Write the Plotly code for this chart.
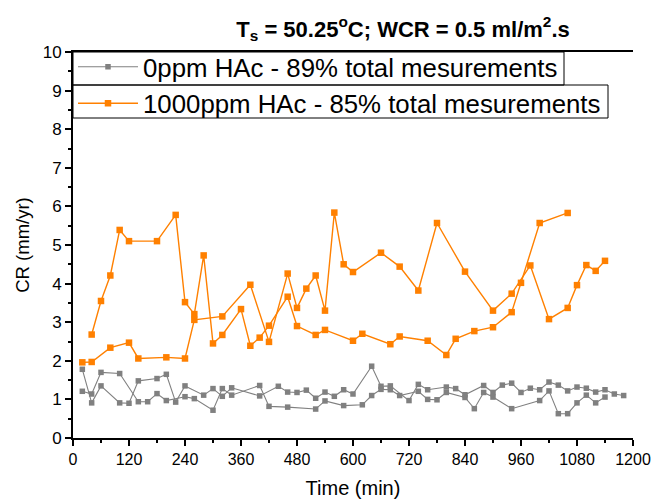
import plotly.graph_objects as go

# ---------------- data ----------------
# 1000 ppm HAc, first run of measurements
t_1000_a = [20, 40, 80, 120, 140, 200, 240, 260, 320, 380, 420, 460, 480, 500, 520, 540,
            560, 580, 600, 660, 700, 740, 780, 840, 900, 940, 980, 1020, 1060, 1080, 1100,
            1120, 1140]
cr_1000_a = [1.96, 1.97, 2.34, 2.47, 2.06, 2.09, 2.06, 3.06, 3.15, 3.97, 2.49, 4.26, 3.37,
             3.87, 4.21, 3.30, 5.84, 4.50, 4.30, 4.80, 4.44, 3.82, 5.57, 4.31, 3.30, 3.74,
             4.47, 3.08, 3.37, 3.96, 4.48, 4.33, 4.59]
# 1000 ppm HAc, second run of measurements
t_1000_b = [40, 60, 80, 100, 120, 180, 220, 240, 260, 280, 300, 320, 360, 380, 400, 420,
            460, 480, 520, 540, 600, 620, 680, 700, 760, 800, 820, 860, 900, 940, 960,
            1000, 1060]
cr_1000_b = [2.68, 3.55, 4.21, 5.39, 5.10, 5.10, 5.78, 3.52, 3.21, 4.73, 2.45, 2.67, 3.34,
             2.39, 2.60, 2.91, 3.66, 2.90, 2.67, 2.80, 2.52, 2.70, 2.43, 2.63, 2.52, 2.15,
             2.57, 2.77, 2.87, 3.26, 4.02, 5.57, 5.83]

# 0 ppm HAc, first run of measurements
t_0_a = [20, 40, 60, 100, 120, 140, 180, 200, 220, 240, 280, 300, 320, 340, 400, 440, 460,
         480, 500, 520, 540, 560, 580, 600, 640, 660, 680, 720, 740, 760, 800, 820, 840,
         880, 900, 920, 940, 960, 980, 1000, 1020, 1040, 1060, 1080, 1100, 1120, 1140,
         1160, 1180]
cr_0_a = [1.78, 0.91, 1.35, 0.91, 0.90, 1.48, 1.54, 1.65, 0.93, 1.35, 1.11, 1.28, 1.08,
          1.30, 1.09, 1.34, 1.19, 1.18, 1.24, 1.03, 1.19, 1.08, 1.25, 1.14, 1.86, 1.34,
          1.35, 0.97, 1.39, 1.25, 1.32, 1.28, 1.12, 1.36, 1.18, 1.37, 1.42, 1.18, 1.29,
          1.25, 1.45, 1.37, 1.22, 1.32, 1.29, 1.19, 1.25, 1.14, 1.10]
# 0 ppm HAc, second run of measurements
t_0_b = [20, 40, 60, 100, 140, 160, 180, 200, 240, 260, 300, 320, 340, 400, 420, 460, 520,
         540, 580, 620, 640, 660, 680, 700, 740, 760, 780, 800, 840, 860, 880, 900, 940,
         1000, 1020, 1040, 1060, 1080, 1100, 1120, 1140]
cr_0_b = [1.21, 1.14, 1.70, 1.67, 0.94, 0.94, 1.15, 0.97, 1.07, 1.02, 0.72, 1.28, 1.11,
          1.36, 0.82, 0.80, 0.75, 0.96, 0.84, 0.86, 1.10, 1.26, 1.25, 1.10, 1.21, 1.00,
          0.99, 1.18, 1.05, 0.76, 1.18, 1.06, 0.76, 0.97, 1.22, 0.63, 0.63, 0.91, 1.11,
          0.91, 1.06]

names = ["0ppm HAc - 89% total mesurements", "1000ppm HAc - 85% total mesurements"]
colors = ["#808080", "#FF8000"]

x_ticks = [0, 120, 240, 360, 480, 600, 720, 840, 960, 1080, 1200]
y_ticks = [0, 1, 2, 3, 4, 5, 6, 7, 8, 9, 10]

FONT = "Liberation Sans, Arial, Helvetica, sans-serif"

# ---------------- figure ----------------
fig = go.Figure()
fig.add_trace(go.Scatter(
    x=t_0_a + [None] + t_0_b, y=cr_0_a + [None] + cr_0_b,
    mode="lines+markers", name=names[0], connectgaps=False,
    line=dict(color=colors[0], width=1.1),
    marker=dict(symbol="square", size=5.5, color=colors[0]),
))
fig.add_trace(go.Scatter(
    x=t_1000_a + [None] + t_1000_b, y=cr_1000_a + [None] + cr_1000_b,
    mode="lines+markers", name=names[1], connectgaps=False,
    line=dict(color=colors[1], width=1.4),
    marker=dict(symbol="square", size=6.5, color=colors[1]),
))

W, H = 656, 501
L, R, T, B = 73, 23, 52, 63
pw = W - L - R
ph = H - T - B


def px2paper_x(px):
    return (px - L) / pw


def px2paper_y(py):
    return (H - B - py) / ph


# legend boxes (one box per row, as in the reference)
row_edges = [52, 85, 118]
row_right = [564, 608]
shapes = []
for i in range(2):
    shapes.append(dict(type="rect", xref="paper", yref="paper",
                       x0=0, x1=px2paper_x(row_right[i]),
                       y0=px2paper_y(row_edges[i + 1]), y1=px2paper_y(row_edges[i]),
                       line=dict(color="black", width=1), fillcolor="rgba(0,0,0,0)",
                       layer="above"))

fig.update_layout(
    width=W, height=H,
    margin=dict(l=L, r=R, t=T, b=B, pad=0, autoexpand=False),
    paper_bgcolor="white", plot_bgcolor="white",
    font=dict(family=FONT, color="black", size=16),
    title=dict(
        text="<b>T<sub>s</sub> = 50.25<sup>o</sup>C; WCR = 0.5 ml/m<sup>2</sup>.s</b>",
        font=dict(family=FONT, size=22, color="black"),
        x=403 / W, xref="container", xanchor="center",
        y=1 - 29 / H, yref="container", yanchor="middle",
    ),
    showlegend=True,
    legend=dict(
        x=0, y=1.022, xref="paper", yref="paper", xanchor="left", yanchor="top",
        bgcolor="rgba(0,0,0,0)", borderwidth=0,
        font=dict(family=FONT, size=25.8, color="black"),
        itemwidth=60, tracegroupgap=0,
    ),
    shapes=shapes,
    xaxis=dict(
        range=[0, 1200], tickvals=x_ticks, ticktext=[str(v) for v in x_ticks],
        ticks="outside", ticklen=6, tickwidth=1.5, tickcolor="black",
        minor=dict(dtick=60, ticks="outside", ticklen=3, tickwidth=1.5, tickcolor="black"),
        showline=True, linecolor="black", linewidth=2, mirror=True,
        showgrid=False, zeroline=False, automargin=False,
        tickfont=dict(size=16),
        title=dict(text="Time (min)", font=dict(size=20), standoff=14),
    ),
    yaxis=dict(
        range=[0, 10], tickvals=y_ticks, ticktext=[str(v) for v in y_ticks],
        ticks="outside", ticklen=6, tickwidth=1.5, tickcolor="black",
        minor=dict(dtick=0.5, ticks="outside", ticklen=3, tickwidth=1.5, tickcolor="black"),
        showline=True, linecolor="black", linewidth=2, mirror=False,
        showgrid=False, zeroline=False, automargin=False,
        tickfont=dict(size=17),
        title=dict(text="CR (mm/yr)", font=dict(size=18.5), standoff=8),
    ),
    yaxis2=dict(
        overlaying="y", side="right", anchor="x", range=[0, 10],
        tickvals=y_ticks, showticklabels=False,
        ticks="inside", ticklen=6, tickwidth=1.5, tickcolor="black",
        minor=dict(dtick=0.5, ticks="inside", ticklen=3, tickwidth=1.5, tickcolor="black"),
        showline=True, linecolor="black", linewidth=2,
        showgrid=False, zeroline=False, automargin=False,
    ),
)

fig.write_html("out.html")
